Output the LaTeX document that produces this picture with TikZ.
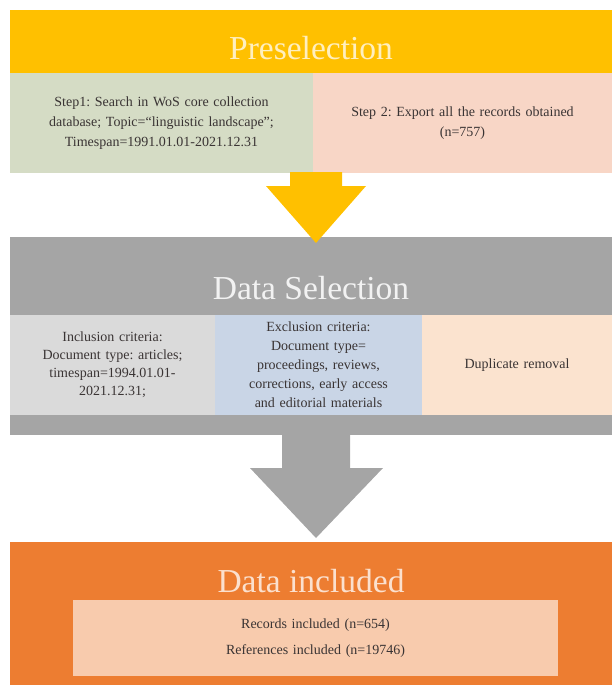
\documentclass[tikz,border=0pt]{standalone}
\usepackage{fontspec}
\setmainfont{Liberation Serif}
\frenchspacing

\definecolor{preyellow}{HTML}{FFC000}
\definecolor{stepgreen}{HTML}{D5DCC5}
\definecolor{steppink}{HTML}{F8D6C6}
\definecolor{selgrey}{HTML}{A5A5A5}
\definecolor{inclgrey}{HTML}{DADADA}
\definecolor{exclblue}{HTML}{C9D5E6}
\definecolor{duppeach}{HTML}{FBE3CF}
\definecolor{incorange}{HTML}{ED7D31}
\definecolor{incpink}{HTML}{F8CBAD}
\definecolor{textdark}{HTML}{3A3434}

\tikzset{
  band/.style={anchor=north west, inner sep=0pt, outer sep=0pt},
  cell/.style={anchor=north west, inner xsep=4pt, inner ysep=0pt, outer sep=0pt,
    align=center, text=textdark, font=\fontsize{14}{20}\selectfont},
  heading/.style={font=\fontsize{33.5}{34}\selectfont},
}

\begin{document}
\begin{tikzpicture}[x=1pt,y=-1pt]
\useasboundingbox (0,0) rectangle (612,685);

% Preselection
\node [band, fill=preyellow, minimum width=602pt, minimum height=63pt] (pre) at (10,10) {};
\node [heading, text=preyellow!25!white] (pretitle) at (311,48) {Preselection};
\node [cell, fill=stepgreen, minimum width=303pt, minimum height=100pt, text width=295pt] (step1) at (10,73)
{Step1: Search in WoS core collection\\ database; Topic=``linguistic landscape'';\\ Timespan=1991.01.01-2021.12.31};
\node [cell, fill=steppink, minimum width=299pt, minimum height=100pt, text width=291pt] (step2) at (313,73)
{Step 2: Export all the records obtained\\ (n=757)};

% Data Selection
\node [band, fill=selgrey, minimum width=602pt, minimum height=198pt] (sel) at (10,237) {};
\node [heading, text=white!95!black] (seltitle) at (311,288) {Data Selection};
\node [cell, fill=inclgrey, minimum width=205pt, minimum height=100pt, text width=197pt, font=\fontsize{14}{18}\selectfont] (incl) at (10,315)
{Inclusion criteria:\\ Document type: articles;\\ timespan=1994.01.01-\\ 2021.12.31;};
\node [cell, fill=exclblue, minimum width=207pt, minimum height=100pt, text width=199pt, font=\fontsize{14}{19}\selectfont] (excl) at (215,315)
{Exclusion criteria:\\ Document type=\\ proceedings, reviews,\\ corrections, early access\\ and editorial materials};
\node [cell, fill=duppeach, minimum width=190pt, minimum height=100pt, text width=182pt] (dup) at (422,315)
{Duplicate removal};

% arrow Preselection -> Data Selection
\fill [preyellow] (290,172) -- (342,172) -- (342,186) -- (366,186) -- (316,243) -- (266,186) -- (290,186) -- cycle;

% Data included
\node [band, fill=incorange, minimum width=602pt, minimum height=143pt] (inc) at (10,542) {};
\node [heading, text=incpink!60!white] (inctitle) at (311,581) {Data included};
\node [cell, fill=incpink, minimum width=485pt, minimum height=76pt, text width=477pt, font=\fontsize{14}{26}\selectfont] (records) at (73,600)
{Records included (n=654)\\ References included (n=19746)};

% arrow Data Selection -> Data included
\fill [selgrey] (282,435) -- (350,435) -- (350,468) -- (383,468) -- (316,538) -- (250,468) -- (282,468) -- cycle;
\end{tikzpicture}
\end{document}
